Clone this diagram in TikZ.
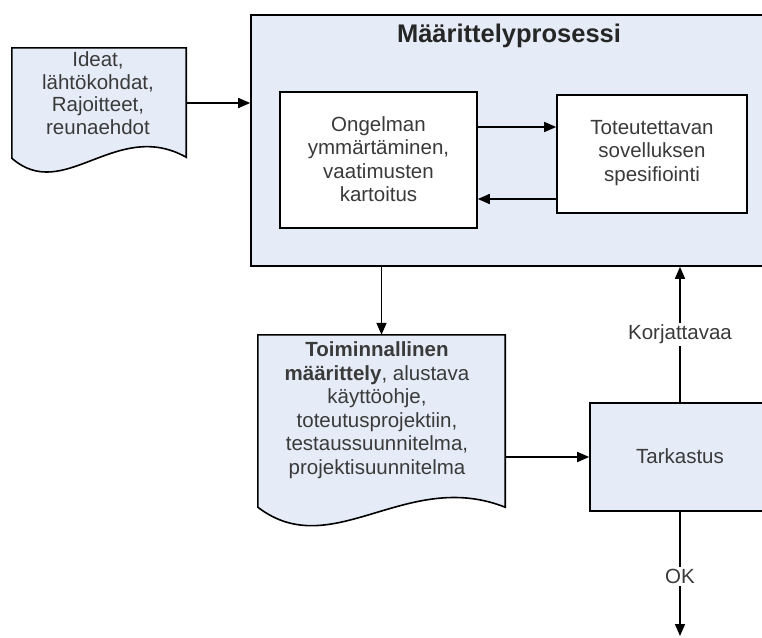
\documentclass[tikz,border=0pt]{standalone}
\usepackage{fontspec}
\setmainfont{Liberation Sans}
\usetikzlibrary{arrows.meta,calc}
\definecolor{boxfill}{RGB}{230,236,247}
\definecolor{txt}{RGB}{58,58,58}
\begin{document}
\begin{tikzpicture}[x=1pt,y=-1pt,
  every node/.style={font=\fontsize{20.5}{23.5}\selectfont, text=txt, align=center},
  line/.style={draw=black, line width=1.6pt},
  arr/.style={line, -{Triangle[length=12pt,width=10pt]}},
  procbox/.style={line, fill=boxfill, inner sep=0pt},
  whitebox/.style={line, fill=white, inner sep=0pt},
  area/.style={inner sep=0pt, draw=none},
  lbl/.style={fill=white, inner sep=2pt}]
\useasboundingbox[fill=white] (0,0) rectangle (762,637);
\begin{scope}
\clip (0,0) rectangle (762,637);
% main process box
\node[procbox, minimum width=515pt, minimum height=251pt] (main) at (508.5,140.5) {};
\node[font=\fontsize{25.5}{29}\selectfont\bfseries, text=black!85] (title) at (509,36) {Määrittelyprosessi};
% inner boxes
\node[whitebox, minimum width=197pt, minimum height=136pt] (box1) at (378.5,160) {};
\node (box1t) at (378.5,159) {Ongelman\\ ymmärtäminen,\\ vaatimusten\\ kartoitus};
\node[whitebox, minimum width=190pt, minimum height=118pt] (box2) at (652,154) {};
\node (box2t) at (652,153) {Toteutettavan\\ sovelluksen\\ spesifiointi};
\draw[arr] (box1.east |- 0,127) -- (box2.west |- 0,127);
\draw[arr] (box2.west |- 0,199) -- (box1.east |- 0,199);
% input document
\node[area, minimum width=174pt, minimum height=110pt] (doc1) at (99,103) {};
\draw[line, fill=boxfill] (doc1.south west) -- (doc1.north west) -- (doc1.north east)
  -- ($(doc1.south east)+(0,-1)$) .. controls (116,118) and (64,204) .. (doc1.south west) -- cycle;
\node[font=\fontsize{20.5}{22.5}\selectfont] (doc1t) at (98,93) {Ideat,\\ lähtökohdat,\\ Rajoitteet,\\ reunaehdot};
\draw[arr] (doc1.east) -- (doc1.east -| main.west);
% output document
\node[area, minimum width=247pt, minimum height=172pt] (doc2) at (381.5,421) {};
\draw[line, fill=boxfill] (doc2.south west) -- (doc2.north west) -- (doc2.north east)
  -- (doc2.south east) .. controls (406,468) and (332,564) .. (doc2.south west) -- cycle;
\node (doc2t) at (377,410) {\textbf{Toiminnallinen}\\ \textbf{määrittely}, alustava\\ käyttöohje,\\ toteutusprojektiin,\\ testaussuunnitelma,\\ projektisuunnitelma};
\draw[arr] (doc2.north |- main.south) -- (doc2.north);
% review box
\node[procbox, minimum width=180pt, minimum height=108pt] (tark) at (680,457) {};
\node (tarkt) at (680,456) {Tarkastus};
\draw[arr] (tark.west -| doc2.east) -- (tark.west);
\draw[arr] (tark.north) -- node[lbl] (korj) {Korjattavaa} (tark.north |- main.south);
\coordinate (okend) at (681,636);
\draw[arr] (tark.south) -- node[lbl, pos=0.52] (ok) {OK} (tark.south |- okend);
\end{scope}
\end{tikzpicture}
\end{document}
